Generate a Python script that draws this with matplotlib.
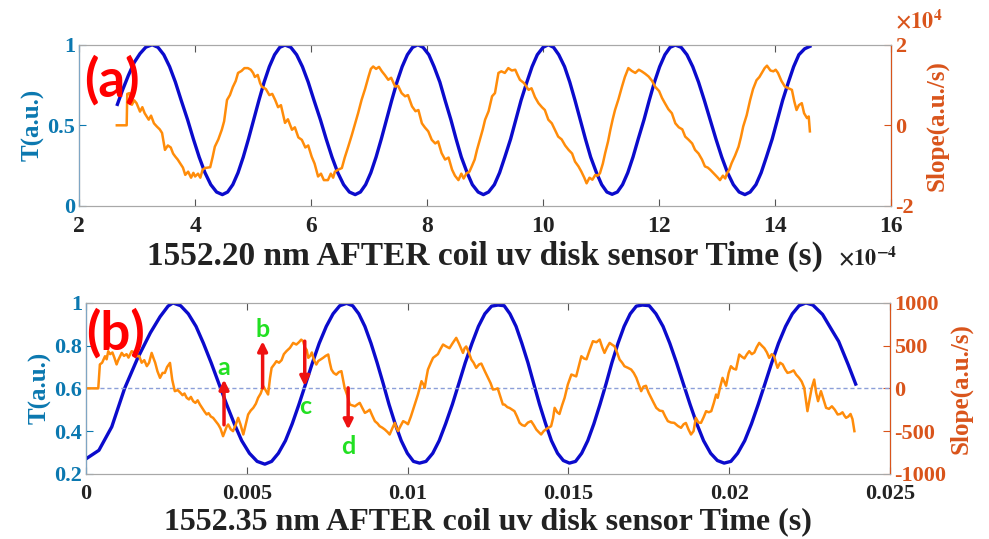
import matplotlib
matplotlib.use("Agg")
import matplotlib.pyplot as plt

# ---------------- panel (a): time in units of 1e-4 s, slope in units of 1e4 a.u./s
t_a = [2.66, 2.75, 2.85, 2.95, 3.05, 3.15, 3.26,
       3.36, 3.46, 3.56, 3.66, 3.76, 3.87, 3.97, 4.07, 4.17, 4.27, 4.37, 4.47,
       4.56, 4.65, 4.74, 4.83, 4.92, 5.01, 5.10, 5.19, 5.28, 5.37, 5.46, 5.55,
       5.65, 5.75, 5.85, 5.95, 6.05, 6.16, 6.26, 6.36, 6.46, 6.56, 6.66, 6.76,
       6.85, 6.94, 7.03, 7.12, 7.21, 7.30, 7.39, 7.48, 7.57, 7.66, 7.75, 7.84,
       7.93, 8.03, 8.12, 8.22, 8.31, 8.41, 8.50, 8.59, 8.69, 8.78, 8.88, 8.97,
       9.06, 9.16, 9.25, 9.34, 9.44, 9.53, 9.62, 9.72, 9.81, 9.90, 10.00, 10.09,
       10.18, 10.27, 10.37, 10.46, 10.55, 10.64, 10.73, 10.82, 10.92, 11.01, 11.10, 11.19,
       11.28, 11.37, 11.46, 11.55, 11.64, 11.74, 11.83, 11.92, 12.01, 12.10, 12.19, 12.28,
       12.38, 12.48, 12.58, 12.68, 12.78, 12.88, 12.98, 13.08, 13.18, 13.28, 13.38, 13.48,
       13.57, 13.67, 13.76, 13.85, 13.95, 14.04, 14.13, 14.23, 14.32, 14.41, 14.51, 14.60]
T_a = [0.63, 0.72, 0.81, 0.89, 0.945, 0.985, 1.0,
       0.984, 0.938, 0.864, 0.768, 0.655, 0.535, 0.415, 0.303, 0.206, 0.132, 0.086, 0.07,
       0.086, 0.132, 0.206, 0.303, 0.415, 0.535, 0.655, 0.768, 0.864, 0.938, 0.984, 0.998,
       0.984, 0.938, 0.864, 0.768, 0.655, 0.535, 0.415, 0.303, 0.206, 0.132, 0.086, 0.07,
       0.086, 0.132, 0.206, 0.303, 0.415, 0.535, 0.655, 0.768, 0.864, 0.938, 0.984, 1.0,
       0.984, 0.938, 0.864, 0.768, 0.655, 0.535, 0.415, 0.303, 0.206, 0.132, 0.086, 0.07,
       0.086, 0.132, 0.206, 0.303, 0.415, 0.535, 0.655, 0.768, 0.864, 0.938, 0.984, 1.0,
       0.984, 0.938, 0.864, 0.768, 0.655, 0.535, 0.415, 0.303, 0.206, 0.132, 0.086, 0.072,
       0.086, 0.132, 0.206, 0.303, 0.415, 0.535, 0.655, 0.768, 0.864, 0.938, 0.984, 0.998,
       0.984, 0.938, 0.864, 0.768, 0.655, 0.535, 0.415, 0.303, 0.206, 0.132, 0.086, 0.07,
       0.086, 0.132, 0.206, 0.303, 0.415, 0.535, 0.655, 0.768, 0.864, 0.938, 0.975, 0.99]

ts_a = [2.65, 2.82, 2.83, 2.87, 2.91, 2.95, 2.99, 3.05, 3.09, 3.13, 3.20, 3.24, 3.29, 3.34,
        3.39, 3.43, 3.48, 3.53, 3.58, 3.62, 3.66, 3.70, 3.74, 3.79, 3.83, 3.88, 3.93, 3.97,
        4.00, 4.05, 4.09, 4.13, 4.17, 4.26, 4.30, 4.34, 4.40, 4.46, 4.50, 4.55, 4.60, 4.65,
        4.70, 4.74, 4.80, 4.85, 4.91, 4.96, 5.00, 5.03, 5.08, 5.12, 5.15, 5.22, 5.28, 5.33,
        5.38, 5.43, 5.48, 5.52, 5.55, 5.60, 5.67, 5.72, 5.78, 5.84, 5.90, 5.95, 6.01, 6.06,
        6.12, 6.17, 6.22, 6.29, 6.34, 6.38, 6.41, 6.47, 6.53, 6.58, 6.64, 6.70, 6.76, 6.81,
        6.87, 6.93, 6.99, 7.03, 7.07, 7.12, 7.17, 7.22, 7.27, 7.33, 7.38, 7.45, 7.50, 7.56,
        7.62, 7.67, 7.74, 7.80, 7.85, 7.91, 7.96, 8.02, 8.08, 8.14, 8.19, 8.25, 8.31, 8.37,
        8.43, 8.48, 8.54, 8.59, 8.63, 8.68, 8.73, 8.77, 8.82, 8.86, 8.92, 8.96, 9.00, 9.06,
        9.12, 9.17, 9.23, 9.28, 9.34, 9.40, 9.46, 9.52, 9.56, 9.60, 9.67, 9.75, 9.80, 9.86,
        9.92, 9.98, 10.03, 10.09, 10.15, 10.20, 10.26, 10.32, 10.38, 10.44, 10.50, 10.55,
        10.61, 10.66, 10.71, 10.75, 10.80, 10.85, 10.90, 10.94, 10.98, 11.03, 11.07, 11.12,
        11.16, 11.20, 11.24, 11.30, 11.36, 11.41, 11.47, 11.53, 11.59, 11.65, 11.70, 11.76,
        11.82, 11.88, 11.93, 12.00, 12.05, 12.10, 12.16, 12.22, 12.28, 12.34, 12.40, 12.45,
        12.51, 12.57, 12.62, 12.68, 12.74, 12.79, 12.84, 12.88, 12.94, 13.00, 13.05, 13.10,
        13.14, 13.17, 13.21, 13.25, 13.31, 13.37, 13.41, 13.45, 13.51, 13.57, 13.62, 13.68,
        13.73, 13.77, 13.82, 13.86, 13.92, 13.97, 14.01, 14.05, 14.11, 14.17, 14.23, 14.29,
        14.33, 14.37, 14.41, 14.46, 14.50, 14.55, 14.58, 14.60]
slope_a = [0.0, 0.0, 0.78, 0.80, 0.51, 0.62, 0.55, 0.34, 0.45, 0.30, 0.14, 0.24, 0.05, -0.03,
           -0.10, -0.19, -0.61, -0.50, -0.55, -0.70, -0.78, -0.85, -0.94, -1.05, -1.23, -1.15, -1.30, -1.18,
           -1.27, -1.20, -1.30, -1.10, -1.06, -1.04, -0.80, -0.53, -0.35, -0.11, 0.10, 0.63, 0.75, 0.95,
           1.10, 1.30, 1.35, 1.42, 1.42, 1.38, 1.30, 1.20, 1.25, 1.05, 0.96, 0.90, 0.75, 0.78,
           0.63, 0.45, 0.50, 0.25, 0.06, 0.15, -0.11, -0.05, -0.30, -0.36, -0.55, -0.50, -0.78, -0.95,
           -1.27, -1.20, -1.36, -1.36, -1.20, -1.30, -1.15, -1.10, -1.06, -0.80, -0.53, -0.25, 0.05, 0.30,
           0.63, 0.90, 1.21, 1.40, 1.46, 1.40, 1.45, 1.34, 1.25, 1.13, 1.18, 0.96, 0.98, 0.80,
           0.72, 0.75, 0.47, 0.35, 0.38, 0.05, -0.05, -0.15, -0.36, -0.45, -0.40, -0.69, -0.85, -0.80,
           -1.10, -1.25, -1.36, -1.20, -1.32, -1.19, -1.15, -1.02, -0.85, -0.61, -0.30, -0.10, 0.14, 0.35,
           0.72, 0.80, 1.30, 1.34, 1.30, 1.42, 1.36, 1.38, 1.25, 1.13, 1.05, 0.88, 0.92, 0.70,
           0.55, 0.45, 0.38, 0.14, 0.05, -0.10, -0.28, -0.35, -0.50, -0.61, -0.70, -0.90,
           -1.02, -1.15, -1.30, -1.44, -1.30, -1.35, -1.23, -1.25, -1.19, -0.95, -0.69, -0.40,
           -0.11, 0.15, 0.38, 0.65, 0.96, 1.20, 1.42, 1.35, 1.30, 1.38, 1.34, 1.28,
           1.21, 1.10, 0.96, 0.85, 0.68, 0.55, 0.40, 0.30, 0.05, -0.05, -0.10, -0.28,
           -0.36, -0.45, -0.61, -0.70, -0.85, -1.02, -1.05, -1.10, -1.19, -1.28, -1.36, -1.25,
           -1.32, -1.19, -1.10, -0.94, -0.75, -0.53, -0.30, -0.03, 0.25, 0.63, 0.90, 1.12,
           1.20, 1.30, 1.42, 1.48, 1.36, 1.34, 1.38, 1.30, 1.10, 0.96, 0.92, 0.88,
           0.60, 0.38, 0.50, 0.55, 0.30, 0.18, 0.22, -0.15]

# ---------------- panel (b): time in s, slope in a.u./s
t_b = [0, 0.0004, 0.0008, 0.0012, 0.0016, 0.0020, 0.0023, 0.00255, 0.0027,
       0.00294, 0.00318, 0.00342, 0.00365, 0.00389, 0.00413, 0.00437, 0.00461, 0.00484, 0.00508, 0.00532, 0.00556,
       0.00577, 0.00598, 0.00620, 0.00641, 0.00662, 0.00683, 0.00704, 0.00725, 0.00747, 0.00768, 0.00789, 0.0081,
       0.00829, 0.00848, 0.00867, 0.00886, 0.00905, 0.00924, 0.00942, 0.00961, 0.0098, 0.00999, 0.01018, 0.01037,
       0.01057, 0.01078, 0.01098, 0.01118, 0.01139, 0.01159, 0.01179, 0.0120, 0.0122, 0.0124, 0.01261, 0.01281,
       0.0130, 0.01318, 0.01337, 0.01355, 0.01374, 0.01392, 0.0141, 0.01429, 0.01447, 0.01466, 0.01484, 0.01503,
       0.01522, 0.01541, 0.0156, 0.01579, 0.01598, 0.01617, 0.01635, 0.01654, 0.01673, 0.01692, 0.01711, 0.0173,
       0.01751, 0.01772, 0.01794, 0.01815, 0.01836, 0.01857, 0.01878, 0.01899, 0.0192, 0.01942, 0.01963, 0.01984,
       0.02005, 0.02026, 0.02048, 0.02069, 0.0209, 0.02111, 0.02132, 0.02153, 0.02175, 0.02196, 0.02217, 0.02238,
       0.0226, 0.0229, 0.0232, 0.0234, 0.0237, 0.02393]
T_b = [0.27, 0.31, 0.42, 0.60, 0.74, 0.86, 0.935, 0.985, 1.0,
       0.987, 0.949, 0.89, 0.811, 0.72, 0.622, 0.525, 0.434, 0.355, 0.296, 0.258, 0.245,
       0.258, 0.296, 0.355, 0.434, 0.525, 0.622, 0.72, 0.811, 0.89, 0.949, 0.987, 0.998,
       0.987, 0.949, 0.89, 0.811, 0.72, 0.622, 0.525, 0.434, 0.355, 0.296, 0.258, 0.25,
       0.258, 0.296, 0.355, 0.434, 0.525, 0.622, 0.72, 0.811, 0.89, 0.949, 0.985, 0.99,
       0.987, 0.949, 0.89, 0.811, 0.72, 0.622, 0.525, 0.434, 0.355, 0.296, 0.262, 0.25,
       0.258, 0.296, 0.355, 0.434, 0.525, 0.622, 0.72, 0.811, 0.89, 0.949, 0.985, 0.99,
       0.987, 0.949, 0.89, 0.811, 0.72, 0.622, 0.525, 0.434, 0.355, 0.296, 0.262, 0.25,
       0.258, 0.296, 0.355, 0.434, 0.525, 0.622, 0.72, 0.811, 0.89, 0.949, 0.987, 1.0,
       0.99, 0.946, 0.87, 0.82, 0.71, 0.62]

ts_b = [0, 0.00038, 0.00043, 0.00050, 0.00059, 0.00064, 0.00069, 0.00075, 0.00082, 0.00088,
        0.00095, 0.00100, 0.00111, 0.00118, 0.00126, 0.00132, 0.00142, 0.00150, 0.00157, 0.00165,
        0.00173, 0.00181, 0.00189, 0.00196, 0.00204, 0.00210, 0.00215, 0.00222, 0.00230, 0.00238,
        0.00245, 0.00252, 0.00261, 0.00268, 0.00276, 0.00285, 0.00293, 0.00300, 0.00306, 0.00313,
        0.00320, 0.00326, 0.00333, 0.00340, 0.00347, 0.00354, 0.00361, 0.00368, 0.00375, 0.00381,
        0.00388, 0.00395, 0.00402, 0.00411, 0.00418, 0.00426, 0.00432, 0.00437, 0.00442, 0.00450,
        0.00457, 0.00465, 0.00473, 0.00480, 0.00489, 0.00496, 0.00504, 0.00512, 0.00520, 0.00528,
        0.00535, 0.00543, 0.00551, 0.00558, 0.00566, 0.00572, 0.00577, 0.00585, 0.00592, 0.00600,
        0.00608, 0.00615, 0.00623, 0.00634, 0.00644, 0.00654, 0.00662, 0.00669, 0.00675, 0.00680,
        0.00686, 0.00691, 0.00697, 0.00702, 0.00709, 0.00716, 0.00722, 0.00730, 0.00737, 0.00745,
        0.00753, 0.00758, 0.00763, 0.00770, 0.00778, 0.00786, 0.00794, 0.00799, 0.00804, 0.00812,
        0.00820, 0.00828, 0.00836, 0.00843, 0.00851, 0.00859, 0.00867, 0.00875, 0.00882, 0.00890,
        0.00898, 0.00906, 0.00913, 0.00921, 0.00929, 0.00937, 0.00944, 0.00952, 0.00960, 0.00965,
        0.00970, 0.00978, 0.00986, 0.00994, 0.01001, 0.01010, 0.01022, 0.01032, 0.01043, 0.01050,
        0.01053, 0.01058, 0.01063, 0.01072, 0.01079, 0.01087, 0.01094, 0.01102, 0.01110, 0.01120,
        0.01130, 0.01140, 0.01151, 0.01160, 0.01172, 0.01177, 0.01182, 0.01190, 0.01198, 0.01205,
        0.01213, 0.01222, 0.01229, 0.01240, 0.01250, 0.01258, 0.01265, 0.01273, 0.01280, 0.01286,
        0.01296, 0.01301, 0.01310, 0.01317, 0.01325, 0.01332, 0.01340, 0.01348, 0.01356, 0.01364,
        0.01374, 0.01384, 0.01392, 0.01400, 0.01407, 0.01415, 0.01423, 0.01430, 0.01438, 0.01446,
        0.01452, 0.01457, 0.01465, 0.01472, 0.01480, 0.01488, 0.01498, 0.01509, 0.01517, 0.01524,
        0.01532, 0.01540, 0.01548, 0.01556, 0.01566, 0.01576, 0.01587, 0.01597, 0.01605, 0.01612,
        0.01620, 0.01628, 0.01636, 0.01643, 0.01651, 0.01659, 0.01667, 0.01674, 0.01685, 0.01695,
        0.01703, 0.01711, 0.01718, 0.01726, 0.01733, 0.01741, 0.01749, 0.01757, 0.01765, 0.01773,
        0.01783, 0.01793, 0.01801, 0.01809, 0.01819, 0.01829, 0.01840, 0.01850, 0.01858, 0.01865,
        0.01873, 0.01881, 0.01889, 0.01896, 0.01904, 0.01912, 0.01920, 0.01928, 0.01936, 0.01944,
        0.01952, 0.01959, 0.01964, 0.01972, 0.01979, 0.01984, 0.01990, 0.01998, 0.02005, 0.02013,
        0.02021, 0.02031, 0.02039, 0.02047, 0.02055, 0.02062, 0.02070, 0.02078, 0.02085, 0.02093,
        0.02101, 0.02109, 0.02117, 0.02124, 0.02132, 0.02139, 0.02145, 0.02150, 0.02158, 0.02166,
        0.02174, 0.02181, 0.02190, 0.02200, 0.02208, 0.02217, 0.02225, 0.02233, 0.02243, 0.02250,
        0.02256, 0.02264, 0.02270, 0.02276, 0.02285, 0.02293, 0.02301, 0.02310, 0.02319, 0.02328,
        0.02337, 0.02345, 0.02352, 0.02358, 0.02363, 0.02370, 0.02377, 0.02383, 0.02389]
slope_b = [0, 0, 280, 300, 376, 340, 435, 400, 420, 360,
           280, 330, 415, 380, 400, 360, 435, 420, 376, 380,
           300, 330, 260, 300, 415, 350, 300, 200, 123, 181,
           181, 250, 298, 100, -33, -20, -50, -80, -60, -111,
           -130, -100, -150, -170, -140, -189, -230, -270, -306, -290,
           -330, -345, -380, -423, -470, -560, -500, -450, -423, -480,
           -501, -430, -345, -420, -540, -430, -306, -260, -228, -180,
           -111, -60, 26, -20, -72, 120, 240, 280, 318, 300,
           330, 400, 435, 474, 532, 513, 540, 570, 552, 480,
           450, 357, 380, 420, 330, 279, 320, 340, 357, 380,
           396, 300, 220, 180, 160, 190, 201, 100, 6, -80,
           -189, -200, -210, -190, -170, -230, -287, -270, -250, -320,
           -384, -410, -443, -460, -482, -510, -540, -470, -404, -460,
           -500, -440, -384, -400, -420, -330, -189, -72, 84, 40,
           6, 120, 220, 300, 357, 380, 400, 460, 513, 490,
           470, 530, 591, 520, 415, 470, 490, 420, 337, 300,
           240, 280, 290, 200, 123, 60, -14, -10, 0, -72,
           -189, -189, -220, -230, -250, -267, -330, -404, -430, -440,
           -400, -384, -430, -482, -510, -540, -500, -480, -460, -443,
           -350, -228, -280, -300, -200, -111, 45, 162, 150, 140,
           260, 376, 350, 340, 450, 552, 540, 571, 480, 415,
           480, 532, 510, 493, 420, 337, 300, 259, 240, 220,
           180, 123, 50, -33, 20, 30, -50, -111, -170, -228,
           -260, -267, -330, -384, -400, -404, -440, -462, -420, -405,
           -480, -540, -500, -345, -400, -404, -340, -267, -280, -267,
           -170, -72, -111, 20, 123, 80, 30, 180, 259, 230,
           220, 396, 370, 350, 400, 435, 400, 420, 480, 532,
           500, 470, 420, 357, 400, 380, 300, 240, 300, 280,
           220, 181, 190, 210, 160, 123, 80, 6, -267, -120,
           0, 103, -50, -150, -33, -130, -228, -240, -210, -250,
           -306, -300, -280, -320, -345, -330, -300, -360, -501]

# markers on panel (b): letter, x (s), arrow tail slope, arrow tip slope, letter slope
marker_names = ["a", "b", "c", "d"]
marker_t = [0.00429, 0.00549, 0.00680, 0.00815]
marker_tail = [-427, 6, 552, 6]
marker_tip = [103, 552, 26, -482]
marker_text = [240, 688, -208, -676]

BLUE = "#0b0bcc"
ORANGE = "#ff8c0a"
T_COLOR = "#0b78b0"
S_COLOR = "#d9541b"
SERIF = "Liberation Serif"

plt.rcParams["font.family"] = SERIF
plt.rcParams["font.weight"] = "bold"
plt.rcParams["mathtext.fontset"] = "stix"

fig = plt.figure(figsize=(9.89, 5.39), dpi=100)


def style_pair(ax, ax2, xfont):
    for s in ["top", "bottom"]:
        ax.spines[s].set_color("#a8a8a8")
        ax2.spines[s].set_color("#a8a8a8")
    ax2.spines["left"].set_color("#7fa6c4")
    ax2.spines["right"].set_color(S_COLOR)
    ax.tick_params(axis="x", direction="in", top=True, length=5, color="#555555",
                   labelsize=xfont, labelcolor="#222222", pad=7)
    ax.tick_params(axis="y", direction="in", length=5, colors=T_COLOR, labelsize=16, pad=3)
    ax2.tick_params(axis="y", direction="in", length=5, colors=S_COLOR, labelsize=16, pad=3)
    for lab in ax.get_xticklabels() + ax.get_yticklabels() + ax2.get_yticklabels():
        lab.set_fontweight("bold")


# ---------------- panel (a)
ax_a = fig.add_axes([0.080, 0.618, 0.821, 0.299])
ax_a2 = ax_a.twinx()
ax_a.plot(t_a, T_a, color=BLUE, lw=2.4)
ax_a2.plot(ts_a, slope_a, color=ORANGE, lw=1.8)
ax_a.set_xlim(2, 16)
ax_a.set_ylim(0, 1)
ax_a2.set_ylim(-2, 2)
ax_a.set_xticks([2, 4, 6, 8, 10, 12, 14, 16])
ax_a.set_xticklabels(["2", "4", "6", "8", "10", "12", "14", "16"])
ax_a.set_yticks([0, 0.5, 1])
ax_a.set_yticklabels(["0", "0.5", "1"])
ax_a2.set_yticks([-2, 0, 2])
ax_a2.set_yticklabels(["-2", "0", "2"])
style_pair(ax_a, ax_a2, 17)
ax_a.set_ylabel("T(a.u.)", color=T_COLOR, fontsize=18, fontweight="bold", labelpad=2)
ax_a2.set_ylabel("Slope(a.u./s)", color=S_COLOR, fontsize=18, fontweight="bold", labelpad=8)
ax_a.set_xlabel("1552.20 nm AFTER coil uv disk sensor Time (s)", fontsize=24,
                fontweight="bold", color="#222222", labelpad=3)
fig.text(0.847, 0.508, r"$\times10^{-4}$", fontsize=16, color="#222222")
fig.text(0.905, 0.948, r"$\times10^{4}$", fontsize=16, color=S_COLOR)
fig.text(0.113, 0.852, "(a)", fontsize=38, fontweight="bold", color="#ff0000",
         family="Lato", ha="center", va="center")

# ---------------- panel (b)
ax_b = fig.add_axes([0.087, 0.121, 0.813, 0.317])
ax_b2 = ax_b.twinx()
ax_b.plot(t_b, T_b, color=BLUE, lw=2.4)
ax_b2.axhline(0, color="#8c9fd8", lw=1.0, ls=(0, (3, 2)))
ax_b2.plot(ts_b, slope_b, color=ORANGE, lw=1.8)
ax_b.set_xlim(0, 0.025)
ax_b.set_ylim(0.2, 1)
ax_b2.set_ylim(-1000, 1000)
ax_b.set_xticks([0, 0.005, 0.01, 0.015, 0.02, 0.025])
ax_b.set_xticklabels(["0", "0.005", "0.01", "0.015", "0.02", "0.025"])
ax_b.set_yticks([0.2, 0.4, 0.6, 0.8, 1])
ax_b.set_yticklabels(["0.2", "0.4", "0.6", "0.8", "1"])
ax_b2.set_yticks([-1000, -500, 0, 500, 1000])
ax_b2.set_yticklabels(["-1000", "-500", "0", "500", "1000"])
style_pair(ax_b, ax_b2, 16)
ax_b.set_ylabel("T(a.u.)", color=T_COLOR, fontsize=18, fontweight="bold", labelpad=2)
ax_b2.set_ylabel("Slope(a.u./s)", color=S_COLOR, fontsize=18, fontweight="bold", labelpad=2)
ax_b.set_xlabel("1552.35 nm AFTER coil uv disk sensor Time (s)", fontsize=23,
                fontweight="bold", color="#222222", labelpad=3)
fig.text(0.117, 0.382, "(b)", fontsize=38, fontweight="bold", color="#ff0000",
         family="Lato", ha="center", va="center")

for name, x, tail, tip, ty in zip(marker_names, marker_t, marker_tail, marker_tip, marker_text):
    ax_b2.annotate("", xy=(x, tip), xytext=(x, tail),
                   arrowprops=dict(arrowstyle="-|>", color="#ee1111", lw=2.5,
                                   mutation_scale=14, shrinkA=0, shrinkB=0))
    ax_b2.text(x, ty, name, color="#22e022", fontsize=18, fontweight="bold",
               family="Lato", ha="center", va="center")

fig.savefig("out.png", dpi=100)
